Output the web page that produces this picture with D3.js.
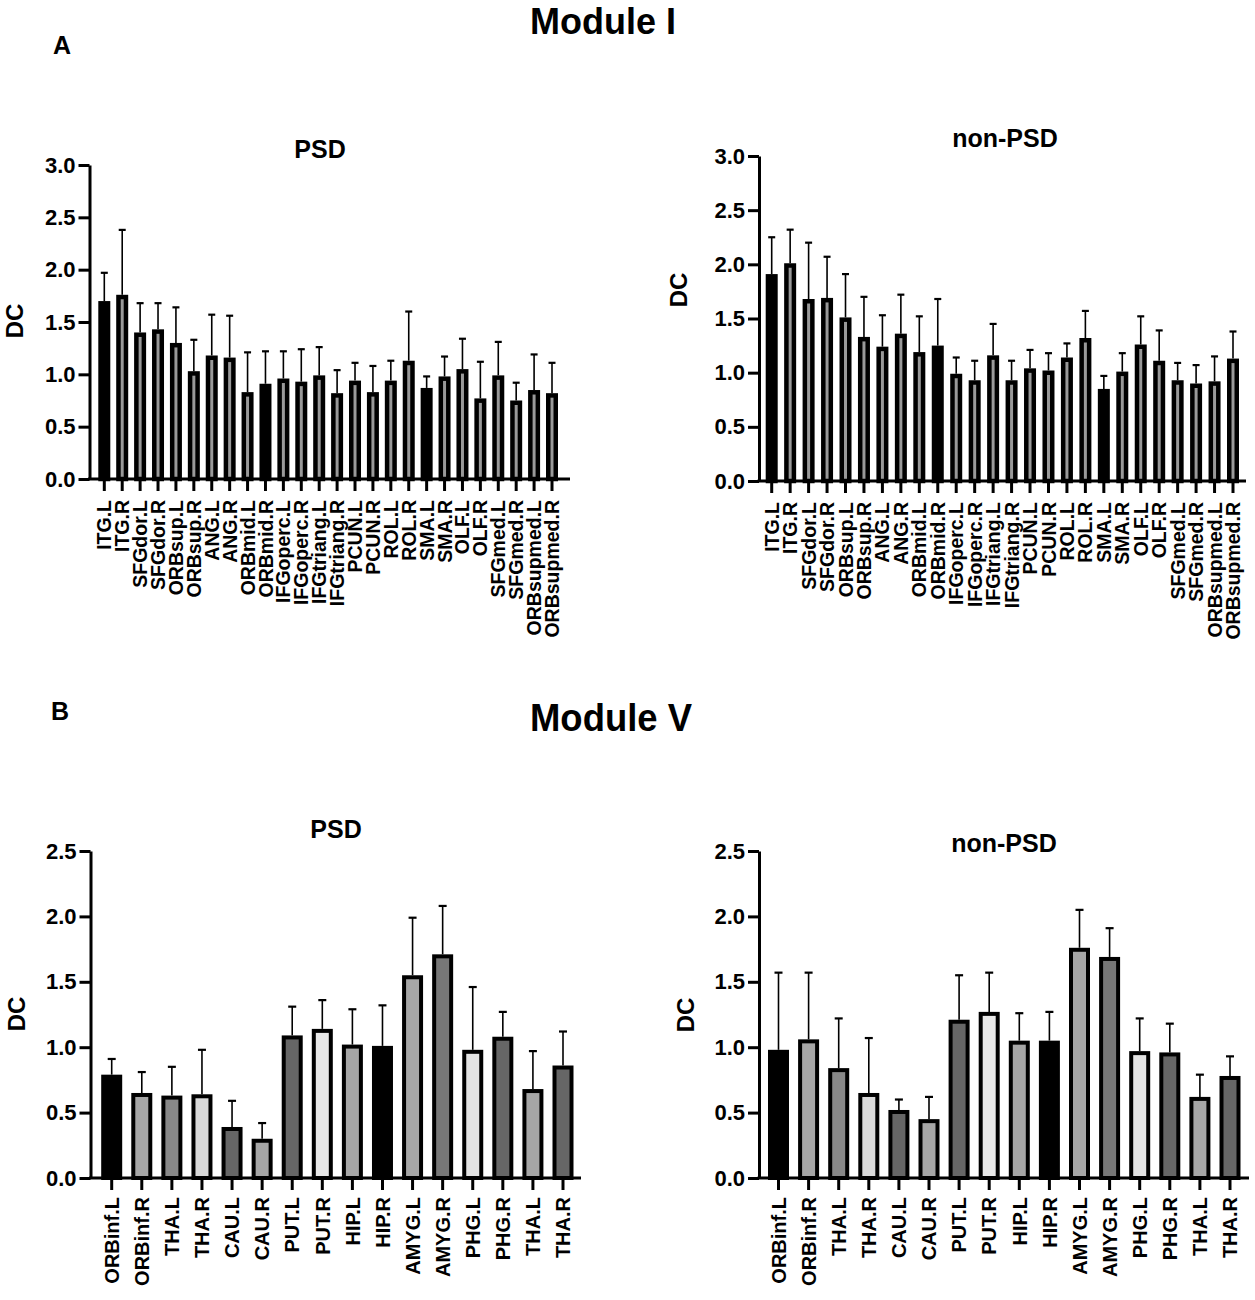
<!DOCTYPE html>
<html>
<head>
<meta charset="utf-8">
<script src="https://cdn.jsdelivr.net/npm/d3@7"></script>
<style>
  body { margin: 0; background: #fff; }
  svg { font-family: "Liberation Sans", Arial, sans-serif; font-weight: bold; }
</style>
</head>
<body>
<div id="graph"></div>
<script>
// Module I regions (top row)
const regionsI = ["ITG.L", "ITG.R", "SFGdor.L", "SFGdor.R", "ORBsup.L", "ORBsup.R", "ANG.L", "ANG.R",
  "ORBmid.L", "ORBmid.R", "IFGoperc.L", "IFGoperc.R", "IFGtriang.L", "IFGtriang.R", "PCUN.L", "PCUN.R",
  "ROL.L", "ROL.R", "SMA.L", "SMA.R", "OLF.L", "OLF.R", "SFGmed.L", "SFGmed.R", "ORBsupmed.L", "ORBsupmed.R"];

// mean DC values and upper error (SD)
const psdI_mean = [1.70, 1.76, 1.40, 1.43, 1.30, 1.03, 1.18, 1.16, 0.83, 0.91, 0.96, 0.93, 0.99, 0.82,
  0.94, 0.83, 0.94, 1.13, 0.87, 0.98, 1.05, 0.77, 0.99, 0.75, 0.85, 0.82];
const psdI_sd = [0.27, 0.62, 0.28, 0.25, 0.34, 0.30, 0.39, 0.40, 0.38, 0.31, 0.26, 0.31, 0.27, 0.22,
  0.17, 0.25, 0.19, 0.47, 0.11, 0.19, 0.29, 0.35, 0.32, 0.17, 0.34, 0.29];

const nonI_mean = [1.91, 2.01, 1.68, 1.69, 1.51, 1.33, 1.24, 1.36, 1.19, 1.25, 0.99, 0.93, 1.16, 0.93,
  1.04, 1.02, 1.14, 1.32, 0.85, 1.01, 1.26, 1.11, 0.93, 0.90, 0.92, 1.13];
const nonI_sd = [0.34, 0.31, 0.52, 0.38, 0.40, 0.37, 0.29, 0.36, 0.33, 0.43, 0.15, 0.18, 0.29, 0.18,
  0.17, 0.16, 0.13, 0.25, 0.12, 0.17, 0.26, 0.28, 0.16, 0.17, 0.23, 0.25];

// bar fill shades (the thick black outline hides most of it in the top row)
const fillsI = ["#000", "#999", "#999", "#999", "#999", "#999", "#999", "#999", "#999", "#000", "#999", "#999", "#999",
  "#999", "#999", "#999", "#999", "#999", "#000", "#999", "#999", "#999", "#999", "#999", "#999", "#999"];

// Module V regions (bottom row)
const regionsV = ["ORBinf.L", "ORBinf.R", "THA.L", "THA.R", "CAU.L", "CAU.R", "PUT.L", "PUT.R",
  "HIP.L", "HIP.R", "AMYG.L", "AMYG.R", "PHG.L", "PHG.R", "THA.L", "THA.R"];

const psdV_mean = [0.79, 0.65, 0.63, 0.64, 0.39, 0.30, 1.09, 1.14, 1.02, 1.01, 1.55, 1.71, 0.98, 1.08, 0.68, 0.86];
const psdV_sd = [0.12, 0.16, 0.22, 0.34, 0.20, 0.12, 0.22, 0.22, 0.27, 0.31, 0.44, 0.37, 0.48, 0.19, 0.29, 0.26];

const nonV_mean = [0.98, 1.06, 0.84, 0.65, 0.52, 0.45, 1.21, 1.27, 1.05, 1.05, 1.76, 1.69, 0.97, 0.96, 0.62, 0.78];
const nonV_sd = [0.59, 0.51, 0.38, 0.42, 0.08, 0.17, 0.34, 0.30, 0.21, 0.22, 0.29, 0.22, 0.25, 0.22, 0.17, 0.15];

const fillsV = ["#000", "#a6a6a6", "#888", "#d9d9d9", "#666", "#a6a6a6", "#666", "#e8e8e8",
  "#a6a6a6", "#000", "#a6a6a6", "#777", "#e3e3e3", "#666", "#a6a6a6", "#666"];

const ticksI = [0, 0.5, 1.0, 1.5, 2.0, 2.5, 3.0];
const ticksV = [0, 0.5, 1.0, 1.5, 2.0, 2.5];

var width = 1255, height = 1300;

var svg = d3.select("#graph")
  .append("svg")
  .attr("width", width)
  .attr("height", height);

// Headings
svg.append("text").attr("x", 603).attr("y", 34).attr("text-anchor", "middle")
  .attr("textLength", 146).attr("lengthAdjust", "spacingAndGlyphs")
  .style("font-size", "37px").text("Module I");
svg.append("text").attr("x", 62).attr("y", 54).attr("text-anchor", "middle")
  .style("font-size", "25px").text("A");
svg.append("text").attr("x", 611).attr("y", 731).attr("text-anchor", "middle")
  .attr("textLength", 162).attr("lengthAdjust", "spacingAndGlyphs")
  .style("font-size", "38px").text("Module V");
svg.append("text").attr("x", 60).attr("y", 720).attr("text-anchor", "middle")
  .style("font-size", "25px").text("B");

// Draws one bar chart panel
function drawPanel(p) {
  var g = svg.append("g");
  var n = p.labels.length;
  var step = (p.lastX - p.firstX) / (n - 1);

  var x = d3.scaleBand()
    .domain(d3.range(n))
    .range([p.firstX - step / 2, p.lastX + step / 2])
    .padding(0);

  var y = d3.scaleLinear()
    .domain([0, d3.max(p.ticks)])
    .range([p.y0, p.yTop]);

  // y axis
  var yAxis = g.append("g")
    .attr("transform", "translate(" + p.axisX + ",0)")
    .call(d3.axisLeft(y).tickValues(p.ticks).tickFormat(d3.format(".1f")).tickSize(11).tickSizeOuter(0));
  yAxis.select(".domain").attr("stroke-width", 3);
  yAxis.selectAll(".tick line").attr("stroke-width", 3);
  yAxis.selectAll(".tick text").attr("x", -14).style("font-size", "22px")
    .style("font-family", "Liberation Sans, Arial").style("font-weight", "bold").attr("fill", "#000");

  // bars
  g.selectAll(".bar")
    .data(p.mean)
    .enter().append("rect")
    .attr("class", "bar")
    .attr("x", (d, i) => x(i) + x.bandwidth() / 2 - p.barW / 2 + p.sw / 2)
    .attr("y", d => y(d) + p.sw / 2)
    .attr("width", p.barW - p.sw)
    .attr("height", d => y(0) - y(d) - p.sw / 2)
    .attr("fill", (d, i) => p.fills[i])
    .attr("stroke", "#000")
    .attr("stroke-width", p.sw);

  // error bars (upper only)
  g.selectAll(".err")
    .data(p.mean)
    .enter().append("line")
    .attr("x1", (d, i) => x(i) + x.bandwidth() / 2)
    .attr("x2", (d, i) => x(i) + x.bandwidth() / 2)
    .attr("y1", d => y(d))
    .attr("y2", (d, i) => y(d + p.sd[i]))
    .attr("stroke", "#000")
    .attr("stroke-width", 1.6);
  g.selectAll(".cap")
    .data(p.mean)
    .enter().append("line")
    .attr("x1", (d, i) => x(i) + x.bandwidth() / 2 - p.capW / 2)
    .attr("x2", (d, i) => x(i) + x.bandwidth() / 2 + p.capW / 2)
    .attr("y1", (d, i) => y(d + p.sd[i]))
    .attr("y2", (d, i) => y(d + p.sd[i]))
    .attr("stroke", "#000")
    .attr("stroke-width", 2.2);

  // x axis
  var xAxis = g.append("g")
    .attr("transform", "translate(0," + y(0) + ")")
    .call(d3.axisBottom(x).tickFormat(i => p.labels[i]).tickSize(p.tickLen).tickSizeOuter(0));
  xAxis.select(".domain").remove();
  xAxis.selectAll(".tick line").attr("stroke-width", 3);
  xAxis.selectAll(".tick text")
    .attr("transform", "rotate(-90)")
    .attr("text-anchor", "end")
    .attr("x", -p.labelGap)
    .attr("y", 0)
    .attr("dy", "0.36em")
    .attr("fill", "#000")
    .style("font-size", p.labelSize + "px")
    .style("font-family", "Liberation Sans, Arial")
    .style("font-weight", "bold");
  g.append("line")
    .attr("x1", p.axisX - 1.5).attr("x2", p.axisEnd)
    .attr("y1", y(0)).attr("y2", y(0))
    .attr("stroke", "#000").attr("stroke-width", 3);

  // panel title and axis title
  g.append("text").attr("x", p.titleX).attr("y", p.titleY).attr("text-anchor", "middle")
    .style("font-size", "25px").text(p.title);
  g.append("text")
    .attr("transform", "translate(" + p.dcX + "," + p.dcY + ") rotate(-90)")
    .attr("text-anchor", "middle")
    .style("font-size", "24px")
    .text("DC");
}

drawPanel({ labels: regionsI, mean: psdI_mean, sd: psdI_sd, fills: fillsI, ticks: ticksI,
  axisX: 89.5, axisEnd: 570, firstX: 104.3, lastX: 552, y0: 479, yTop: 165,
  barW: 12, sw: 4.5, capW: 7, tickLen: 12, labelGap: 21, labelSize: 19.5,
  title: "PSD", titleX: 320, titleY: 158, dcX: 23, dcY: 321 });

drawPanel({ labels: regionsI, mean: nonI_mean, sd: nonI_sd, fills: fillsI, ticks: ticksI,
  axisX: 759, axisEnd: 1246, firstX: 771.7, lastX: 1233, y0: 481, yTop: 156,
  barW: 12, sw: 4.5, capW: 7, tickLen: 12, labelGap: 21, labelSize: 19.5,
  title: "non-PSD", titleX: 1005, titleY: 147, dcX: 687, dcY: 290 });

drawPanel({ labels: regionsV, mean: psdV_mean, sd: psdV_sd, fills: fillsV, ticks: ticksV,
  axisX: 90.5, axisEnd: 581, firstX: 111.7, lastX: 563, y0: 1178, yTop: 851,
  barW: 21, sw: 4, capW: 8, tickLen: 12, labelGap: 19, labelSize: 20,
  title: "PSD", titleX: 336, titleY: 838, dcX: 25, dcY: 1014 });

drawPanel({ labels: regionsV, mean: nonV_mean, sd: nonV_sd, fills: fillsV, ticks: ticksV,
  axisX: 759, axisEnd: 1249, firstX: 778.5, lastX: 1230, y0: 1178, yTop: 851,
  barW: 21, sw: 4, capW: 8, tickLen: 12, labelGap: 19, labelSize: 20,
  title: "non-PSD", titleX: 1004, titleY: 852, dcX: 694, dcY: 1015 });
</script>
</body>
</html>
